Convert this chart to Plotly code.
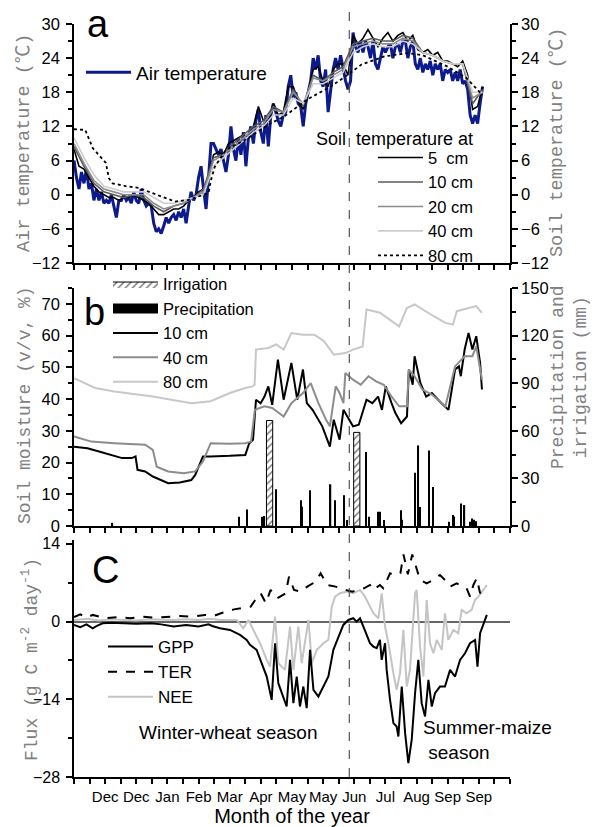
import plotly.graph_objects as go

# ---------------- data ----------------
# x axis: day index from the start of the record (axis 0..350 days)
MONTH_LABELS = ["Dec", "Dec", "Jan", "Feb", "Mar", "Apr", "May", "May",
                "Jun", "Jul", "Aug", "Sep", "Sep"]
MONTH_TICK_DAYS = [25, 50, 75, 100, 125, 150, 175, 200, 225, 250, 275, 300, 325]
SEASON_BOUNDARY_DAY = 221

# panel a : temperatures (deg C)
air_day = list(range(0, 330, 2))
air_temp = [6, 3, 1, 4, 2, 4.5, 1, 2, -1, 1, -1, 0.5, -1.5, -1, -1.5, 0, -2, -4, -1, -1,
            0, -1, -0.5, -1.5, 0.5, -1, -1.5, 1, -1, -2, -1.5, -2, -5, -6.5, -6, -6.8, -5.5, -4, -5, -4,
            -3.5, -4.5, -3, -4, -2.5, -5, -2, 0.5, -1, 0, 3, 5, 1, -2.5, 3, 9, 9, 8, 7, 8,
            6, 4, 7, 12, 8, 6, 10, 7, 11, 5, 10, 12, 9, 13, 15, 11, 9, 14, 8.5, 14,
            16, 14.5, 13, 12, 14, 14.5, 19, 21, 17, 18, 16, 15.5, 12, 16, 18, 20, 24, 22, 24.5, 20,
            19, 22, 14.5, 18, 22, 24, 22, 24.5, 22, 20, 18.5, 20, 28.5, 26, 25, 27, 25, 27, 26, 24,
            27, 23, 22, 24, 26, 25, 26, 26.5, 24, 26, 26.5, 25, 27, 27, 24, 26, 27, 23, 22, 24,
            21.5, 23, 22, 23.5, 21, 23, 22, 23, 20, 22, 21.5, 22, 20, 21.5, 20, 22, 19.5, 20, 18.5, 14,
            12.5, 14, 12.5, 16, 19]

st5_day = list(range(0, 329, 4))
soil_t5 = [8, 5, 4.5, 3, 1.5, 0.5, 0, -0.5, -0.5, -1, -0.5, -0.5, 0, -0.5, -1, -1.5, -2.5, -3.5, -3.5, -3,
           -2.5, -2.5, -2, -1, -0.5, 0.5, 1, 3, 7, 7.5, 7, 9, 9.5, 10, 10.5, 10, 12, 15.5, 13, 13,
           16, 14, 14.5, 19, 19, 16.5, 15, 18, 22, 22.5, 20, 19, 22, 23, 23, 21, 28, 26.5, 27.5, 29,
           27.5, 26, 27.5, 28.5, 27, 28, 28.5, 27, 28, 25.5, 25, 25.5, 24.5, 25, 23.5, 23.5, 23, 22.5, 23.5, 21,
           15, 15.5, 19]

st_deep_day = list(range(0, 329, 8))
soil_t10 = [8.5, 5, 2, 0.5, 0, -0.5, 0, -0.5, -2, -3, -2, -1.5, -0.5, 1, 6.5, 7, 9, 10.5, 12, 13,
            15.5, 14.5, 18.5, 15.5, 21, 20, 21.5, 22.5, 26.5, 27, 27.5, 27, 27, 28, 27.5, 25, 24.5, 23.5, 23, 23,
            16, 18.5]
soil_t20 = [9, 5.5, 2.5, 1, 0.5, 0, 0, 0, -1.5, -2.5, -2, -1.5, -0.5, 0.5, 6, 7, 8.5, 10, 11.5, 12.5,
            15, 14.5, 18, 16, 20.5, 20, 21, 22, 26, 26.5, 27, 26.5, 26.5, 27.5, 27, 25, 24.5, 23.5, 23, 23,
            17, 18]
soil_t40 = [10, 6.5, 3.5, 1.5, 1, 0.5, 0.5, 0.5, -0.5, -1.5, -1.5, -1, -0.5, 0, 5, 6.5, 8, 9.5, 11, 12,
            14, 14, 17, 16, 19.5, 19.5, 20.5, 21.5, 25, 26, 26.5, 26, 26, 27, 26.5, 25, 24.5, 23.5, 23, 23,
            18, 18]
st80_day = [0, 9, 15, 25.6, 28, 31, 41.5, 52, 62.7, 73, 81, 92, 100, 108, 110, 113, 122, 138, 156, 169,
            187, 206, 218, 231, 249, 268, 280, 300, 315, 328]
soil_t80 = [11.5, 11.4, 8.2, 5.6, 2.9, 2.0, 1.5, 1.2, 0.3, -0.6, -1.2, -0.9, -0.3, 0.3, 2.6, 4.9, 7.9, 9.7, 12.3, 13.8,
            16.7, 19, 20.8, 22.9, 24.3, 24.9, 24.5, 22.5, 20.5, 17.5]

# panel b : soil moisture (%), precipitation and irrigation (mm)
sm10_day = [0, 10.8, 20.1, 29.3, 38.6, 46.3, 49.4, 51, 57.1, 63.3, 69.5, 75.6, 84.9, 94.2, 97.3, 103.5, 109.7,
            118.9, 125.1, 137.5, 140.6, 143.7, 146.1, 149.8, 152.9, 156, 159.1, 163.7, 168.3, 174.5, 179.2,
            183.8, 186.9, 191.5, 199.3, 205.4, 208.5, 213.2, 216.3, 219.4, 224, 228.6, 234.8, 239.5, 244.1,
            247.2, 250.3, 254.9, 258, 262.6, 267.3, 268.8, 271.9, 273.4, 278.1, 282.7, 287.3, 295, 300.6,
            305.9, 309, 310.5, 313.6, 316.7, 319.8, 322.9, 326, 327.5]
sm10 = [25, 24.5, 23.5, 22.4, 21.4, 21.4, 21.9, 17.7, 17.2, 15.6, 14.5, 13.5, 13.7, 14.5, 16.1, 21.9, 21.9,
        21.9, 22.1, 22.4, 26, 27.2, 39.8, 38.7, 40.8, 44, 38.2, 52.4, 39.8, 51.4, 39.8,
        49.3, 38.7, 36.6, 31.4, 25, 33.5, 27.2, 36.6, 34.5, 31.4, 31.9, 39.8, 38.7, 40.8,
        36.6, 44, 38.7, 35.6, 32.4, 34.5, 49.3, 44.5, 53.5, 45, 40.8, 41.9, 38.7, 36.6,
        49.3, 50.3, 47.2, 55.6, 60.8, 55.6, 59.8, 51.4, 43]
sm40_day = [0, 13.9, 32.4, 57.1, 63.3, 66.4, 75.6, 88, 97.3, 103.5, 109.7, 125.1, 137.5, 142.1, 145.2, 152.9,
            159.1, 168.3, 174.5, 183.8, 190, 196.2, 202.3, 205.4, 210.1, 213.2, 216.3, 217.8, 224, 230.2,
            236.4, 242.5, 248.7, 254.9, 261, 267.3, 268.8, 273.4, 279.6, 287.3, 298.1, 305.9, 313.6, 319.8,
            322.9, 327.5]
sm40 = [28.2, 26.6, 26.1, 25.6, 24, 18.7, 17.2, 16.6, 17.2, 20.3, 26.1, 25.9, 26.1, 26.6, 36.6, 37.7,
        37.2, 34.5, 38.7, 41.9, 45, 38.7, 33.5, 31.4, 44, 41.9, 38.7, 48.2, 46.1, 44.5,
        47.2, 45.6, 44.5, 40.8, 37.7, 37.7, 49.3, 47.2, 43, 41.4, 37.7, 50.3, 53.5, 53.5,
        56.6, 46.1]
sm80_day = [0, 17, 32.4, 63.3, 94.2, 109.7, 125.1, 137.5, 143.6, 145, 146.1, 156, 162.2, 168.3, 174.5, 183.8,
            193.1, 200.8, 208.5, 217.8, 224, 231.7, 234.8, 245.6, 261, 267.2, 273.4, 279.6, 288.8, 298.1,
            304.2, 307.3, 316.6, 322.8, 327.4]
sm80 = [46.6, 43.5, 42.4, 40.8, 38.7, 39.3, 41.9, 43.5, 44, 44.5, 55.6, 56.1, 57.2, 55.6, 60.8, 60.3,
        60.3, 58.2, 54, 54.5, 55.6, 56.6, 68.2, 67.2, 62.9, 68.7, 69.8, 68.2, 66.1, 64,
        63.5, 67.7, 68.7, 69.3, 67.2]

precip_day = [30.9, 132.2, 139, 151.4, 152.9, 162.2, 182.3, 182.9, 189.4, 206, 209.4, 216.9, 219.3, 234.1,
              236.9, 244, 245.6, 248.7, 262.6, 263.5, 274, 276.5, 278, 284.8, 287.9, 301, 304, 305.2,
              310.4, 313.5, 318.2, 319.7, 321.3, 322.8]
precip_mm = [2, 5.8, 10.4, 5.8, 6.3, 23.2, 16.3, 12.1, 22.6, 26.3, 16.3, 19.4, 3.8, 46.6,
             5.8, 9, 9, 3.8, 10, 4, 33.6, 50.8, 12, 47.6, 24.6, 2.7, 6.9, 6,
             14.2, 13.2, 2.7, 4.8, 4, 3]
irrig_day = [157, 227]
irrig_mm = [66.5, 59]

# panel c : carbon fluxes (g C m-2 day-1)
gpp_day = [0, 5, 10, 15, 18, 23, 30, 40, 50, 62, 70, 80, 90, 100, 108, 111, 117.2, 125.2, 133.3, 138.6,
           141.3, 146.6, 150.7, 154.7, 158.7, 161.4, 164, 166.7, 170.7, 173.4, 176.1, 178.8, 181.4, 184.1,
           186.8, 189.5, 192.2, 196.2, 200.2, 204.2, 208.2, 212.2, 216.2, 220.2, 224.2, 226.9, 229.6,
           232.3, 235, 237.6, 240.3, 243, 245.6, 247, 249.7, 251, 253.7, 256.4, 259, 260.4, 263.1, 265.8,
           268.4, 271.1, 273.8, 276.4, 279.1, 281.8, 284.5, 287.2, 289.8, 293.8, 297.8, 301.9, 305.9,
           309.9, 313.9, 317.9, 322, 323.9, 326, 328.7, 331.4]
gpp = [-0.6, -1.0, -0.5, -1.2, -0.8, -0.3, -0.2, -0.3, -0.4, -0.3, -0.5, -0.9, -0.6, -0.9, -0.5, -0.8, -1.2, -1.5,
       -2.4, -3.3, -4.2, -5.1, -7.5, -9.9, -14.1, -3.9, -11.1, -12.9, -15.3, -6.9, -14.7, -9.9, -15.3, -11.7,
       -15.6, -5.1, -12.3, -13.5, -11.7, -9.9, -5.1, -2.7, -0.6, 0.3, 0.6, 0, 0.6,
       -0.9, -2.4, -3.9, -4.5, -4.8, -3.3, -6.9, -3.9, -8.7, -14.1, -18.3, -18.9, -20.7, -11.7, -20.1,
       -25.5, -21.3, -12.9, -6.9, -14.7, -17.1, -10.5, -15.3, -12.9, -11.7, -11.7, -8.7, -9.9,
       -6.9, -5.7, -3.9, -3.3, -8.1, -2.1, -0.3, 1.2]
ter_day = [0, 5, 10, 15, 25, 35, 45, 55, 65, 75, 85, 95, 105, 112, 118, 128.5, 134, 141.9, 147.2, 149.9,
           154, 157.8, 163.2, 169.9, 172.6, 176.6, 182, 187.3, 194, 198, 203.3, 210, 218.1, 223.4, 232.8,
           237.6, 240.3, 245.6, 248.3, 253.7, 257.7, 262, 264.5, 268, 271.5, 275.1, 277.8, 283.1, 288.5,
           293.8, 297.8, 301.9, 307.2, 315.2, 317.9, 320.6, 323.3, 326, 329]
ter = [0.8, 1.3, 0.7, 1.2, 0.6, 0.8, 0.6, 0.9, 0.7, 0.8, 1.0, 0.9, 1.2, 1.0, 1.5, 2.2, 2.4, 2.7, 4.5, 5.1,
       3.3, 5.7, 4.2, 5.1, 8.1, 5.7, 5.4, 6.3, 7.2, 8.7, 6.6, 6.3, 5.7, 5.4, 6,
       6.6, 5.7, 6.6, 6, 8.7, 8.4, 8.7, 12.1, 8.5, 12.1, 9.3, 7.5, 6.9, 7.5,
       8.4, 7.5, 6.3, 6.9, 6, 4.5, 6.6, 7.8, 5.1, 6.5]
nee_day = [0, 10, 20, 30, 40, 50, 60, 70, 80, 90, 100, 110, 117.2, 130.6, 135.9, 140, 144, 149.3, 154.7,
           157.3, 161.4, 164, 169.4, 173.4, 176.1, 180.1, 182.8, 188.2, 190.9, 194.9, 200.2, 204.2, 206.9,
           209.6, 213.6, 219, 224.2, 229.6, 233.6, 236.3, 240.3, 244.3, 247, 249.7, 252.4, 256.4, 259,
           261.7, 264.4, 267.1, 269.7, 273.8, 275.1, 277.8, 280.5, 283.1, 285.8, 288.5, 291.2, 295.2,
           297.8, 300.5, 304.5, 308.5, 311.2, 315.2, 319.2, 321.9, 324.6, 328.6, 331.4]
nee = [0.3, 0.5, 0.2, 0.4, 0.3, 0.2, 0.4, 0.3, 0.3, 0.4, 0.3, 0.5, 0.3, 0.3, -1.2, 0.3, -1.5, -3.9, -6.9,
       -8.1, 0.9, -7.5, -8.7, -0.9, -8.7, -0.9, -7.5, 0.3, -7.5, -5.1, -3.9, -3.3, 2.7,
       4.5, 5.1, 5.4, 5.1, 5.7, 4.5, 3.3, 1.5, 0.6, 5.1, -0.9, -3.9, -9.3, -12.3,
       -9.3, -1.5, -11.7, -8.7, 5.1, 5.7, -4.5, -9.9, 3.9, -3.9, -5.7, -3.3, -5.1,
       1.5, -3.3, -1.5, -2.1, 2.1, 1.5, 2.1, 3.9, 4.5, 5.7, 6.6]

# ---------------- layout helpers ----------------
W, H = 601, 827
L_PX, R_PX = 74, 510


def fx(px):
    return (px - L_PX) / (R_PX - L_PX)


def fy(py):
    return 1 - py / H


SANS = "Liberation Sans, Arial, sans-serif"
TICK_FONT = dict(family=SANS, size=16.5, color="black")
TITLE_FONT = dict(family="Liberation Mono, Noto Sans CJK SC, monospace", size=18.5, color="#808080")

fig = go.Figure()

# panel a
fig.add_trace(go.Scatter(x=air_day, y=air_temp, mode="lines", name="Air temperature",
                         line=dict(color="#0c1a8c", width=3), xaxis="x", yaxis="y", legend="legend"))
for name, xs, ys, col, dash, wid in [
        ("5\u00a0\u00a0cm", st5_day, soil_t5, "#000000", "solid", 1.6),
        ("10 cm", st_deep_day, soil_t10, "#5a5a5a", "solid", 1.6),
        ("20 cm", st_deep_day, soil_t20, "#8c8c8c", "solid", 1.6),
        ("40 cm", st_deep_day, soil_t40, "#cdcdcd", "solid", 1.6),
        ("80 cm", st80_day, soil_t80, "#000000", "dot", 1.8)]:
    fig.add_trace(go.Scatter(x=xs, y=ys, mode="lines", name=name,
                             line=dict(color=col, width=wid, dash=dash),
                             xaxis="x", yaxis="y2", legend="legend2"))

# panel b
HATCH = dict(shape="/", fgcolor="black", bgcolor="white", size=5, solidity=0.3)
fig.add_trace(go.Bar(x=irrig_day, y=irrig_mm, width=5, name="Irrigation", showlegend=False,
                     marker=dict(color="white", line=dict(color="black", width=1), pattern=HATCH),
                     xaxis="x2", yaxis="y4"))
fig.add_trace(go.Bar(x=precip_day, y=precip_mm, width=1.0, name="Precipitation", showlegend=False,
                     marker=dict(color="black", line=dict(width=0)),
                     xaxis="x2", yaxis="y4"))
# legend keys for the two bar series
fig.add_trace(go.Scatter(x=[None], y=[None], mode="lines", name="Irrigation", fill="toself",
                         fillcolor="white", fillpattern=HATCH, line=dict(color="black", width=1),
                         xaxis="x2", yaxis="y4", legend="legend3", legendrank=1))
fig.add_trace(go.Scatter(x=[None], y=[None], mode="lines", name="Precipitation",
                         line=dict(color="black", width=16),
                         xaxis="x2", yaxis="y4", legend="legend3", legendrank=2))
for name, xs, ys, col, rank in [("10 cm", sm10_day, sm10, "#000000", 3),
                                ("40 cm", sm40_day, sm40, "#8c8c8c", 4),
                                ("80 cm", sm80_day, sm80, "#c8c8c8", 5)]:
    fig.add_trace(go.Scatter(x=xs, y=ys, mode="lines", name=name, line=dict(color=col, width=2),
                             xaxis="x2", yaxis="y3", legend="legend3", legendrank=rank))

# panel c
fig.add_trace(go.Scatter(x=nee_day, y=nee, mode="lines", name="NEE", line=dict(color="#c4c4c4", width=2),
                         xaxis="x3", yaxis="y5", legend="legend4", legendrank=3))
fig.add_trace(go.Scatter(x=ter_day, y=ter, mode="lines", name="TER",
                         line=dict(color="black", width=2, dash="dash"),
                         xaxis="x3", yaxis="y5", legend="legend4", legendrank=2))
fig.add_trace(go.Scatter(x=gpp_day, y=gpp, mode="lines", name="GPP", line=dict(color="black", width=2),
                         xaxis="x3", yaxis="y5", legend="legend4", legendrank=1))

xcommon = dict(range=[0, 350], tickmode="array", tickvals=MONTH_TICK_DAYS, ticktext=MONTH_LABELS,
               ticks="outside", ticklen=5, tickwidth=1.5, tickcolor="black",
               minor=dict(tick0=0, dtick=12.5, ticks="outside", ticklen=5, tickwidth=1.5,
                          tickcolor="black", showgrid=False),
               showline=True, linecolor="black", linewidth=1.5,
               showgrid=False, zeroline=False, automargin=False, tickfont=TICK_FONT, tickangle=0)
ycommon = dict(ticks="outside", ticklen=6, tickwidth=1.5, tickcolor="black", showline=True,
               linecolor="black", linewidth=1.5, showgrid=False, zeroline=False, automargin=False,
               tickfont=TICK_FONT)


def minor(d):
    return dict(dtick=d, ticks="outside", ticklen=4, tickwidth=1.5, tickcolor="black", showgrid=False)


dom_a = [fy(263), fy(24)]
dom_b = [fy(526), fy(288)]
dom_c = [fy(777), fy(540)]

LEG = dict(xanchor="left", yanchor="top", bgcolor="rgba(0,0,0,0)", borderwidth=0,
           itemwidth=45, tracegroupgap=0)

fig.update_layout(
    width=W, height=H, margin=dict(l=L_PX, r=W - R_PX, t=0, b=0),
    paper_bgcolor="white", plot_bgcolor="white", barmode="overlay", showlegend=True,
    xaxis=dict(xcommon, domain=[0, 1], anchor="y", showticklabels=False),
    xaxis2=dict(xcommon, domain=[0, 1], anchor="y3", showticklabels=False),
    xaxis3=dict(xcommon, domain=[0, 1], anchor="y5", showticklabels=True,
                tickfont=dict(family=SANS, size=15, color="black"),
                title=dict(text="Month of the year", standoff=3,
                           font=dict(family=SANS, size=20, color="black"))),
    yaxis=dict(ycommon, domain=dom_a, anchor="x", range=[-12, 30], tick0=0, dtick=6, minor=minor(3),
               ticklabelstandoff=3),
    yaxis2=dict(ycommon, domain=dom_a, anchor="x", overlaying="y", side="right", range=[-12, 30],
                tick0=0, dtick=6, minor=minor(3)),
    yaxis3=dict(ycommon, domain=dom_b, anchor="x2", range=[0, 75], tick0=0, dtick=10, minor=minor(5),
                ticklabelstandoff=3),
    yaxis4=dict(ycommon, domain=dom_b, anchor="x2", overlaying="y3", side="right", range=[0, 150],
                tick0=0, dtick=30, minor=minor(15)),
    yaxis5=dict(ycommon, domain=dom_c, anchor="x3", range=[-28, 14.7], tick0=0, dtick=14, minor=minor(7),
                zeroline=True, zerolinecolor="#666666", zerolinewidth=1.5, ticklabelstandoff=3,
                tickfont=dict(TICK_FONT, size=16)),
    legend=dict(LEG, x=fx(81), y=fy(53.5), font=dict(family=SANS, size=19, color="black")),
    legend2=dict(LEG, x=fx(373), y=fy(140.3), font=dict(family=SANS, size=16.5, color="black")),
    legend3=dict(LEG, x=fx(108), y=fy(266.8), font=dict(family=SANS, size=16.5, color="black")),
    legend4=dict(LEG, x=fx(103), y=fy(629), font=dict(family=SANS, size=17, color="black")),
)

# season boundary line across all panels
fig.add_shape(type="line", xref="x3", yref="paper", x0=SEASON_BOUNDARY_DAY, x1=SEASON_BOUNDARY_DAY,
              y0=fy(777), y1=fy(12), line=dict(color="#555555", width=1.2, dash="dash"))


def note(text, x, y, size, xanchor="center", yanchor="middle", angle=0, font=None, align="center"):
    f = dict(font or dict(family=SANS, color="black"), size=size)
    fig.add_annotation(text=text, xref="paper", yref="paper", x=fx(x), y=fy(y), showarrow=False,
                       xanchor=xanchor, yanchor=yanchor, textangle=angle, font=f, align=align)


# axis titles
note("Air temperature (\u2103)", 24, 143, 18.5, angle=-90, font=TITLE_FONT)
note("Soil temperature (\u2103)", 557, 143, 18.5, angle=-90, font=TITLE_FONT)
note("Soil moisture (v/v, %)", 25, 405, 18, angle=-90, font=TITLE_FONT)
note("Precipitation and<br>irrigation (mm)", 569, 377, 18, angle=-90, font=TITLE_FONT)
note("Flux (g C m<sup>-2</sup> day<sup>-1</sup>)", 30, 660, 18, angle=-90, font=TITLE_FONT)

# panel letters and texts
note("a", 97.5, 1, 38, yanchor="top")
note("b", 94, 312, 38)
note("C", 105.5, 570, 38)
note("Soil\u00a0\u00a0temperature at", 314, 139, 18, xanchor="left")
note("Winter-wheat season", 228, 732, 19)
note("Summer-maize<br>\u00a0season", 421, 740, 19, xanchor="left", align="left")

fig.write_html("out.html", config={"displayModeBar": False},
               post_script="document.body.style.margin='0px';document.body.style.overflow='hidden';")
